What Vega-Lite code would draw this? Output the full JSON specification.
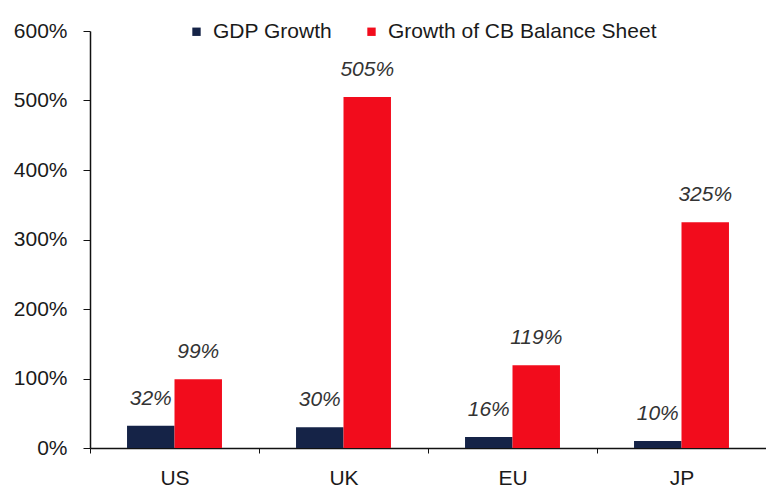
{
  "$schema": "https://vega.github.io/schema/vega-lite/v6.json",
  "width": 676,
  "height": 417,
  "autosize": "none",
  "padding": {"left": 90, "top": 31, "right": 0, "bottom": 41},
  "background": "white",
  "config": {
    "view": {"stroke": null},
    "font": "Liberation Sans",
    "axis": {"grid": false, "domainColor": "#111", "tickColor": "#111", "labelColor": "#1a1a1a", "labelFont": "Liberation Sans", "labelFontSize": 21}
  },
  "data": {
    "values": [
      {"region": "US", "series": "GDP Growth", "value": 32, "label": "32%"},
      {"region": "US", "series": "Growth of CB Balance Sheet", "value": 99, "label": "99%"},
      {"region": "UK", "series": "GDP Growth", "value": 30, "label": "30%"},
      {"region": "UK", "series": "Growth of CB Balance Sheet", "value": 505, "label": "505%"},
      {"region": "EU", "series": "GDP Growth", "value": 16, "label": "16%"},
      {"region": "EU", "series": "Growth of CB Balance Sheet", "value": 119, "label": "119%"},
      {"region": "JP", "series": "GDP Growth", "value": 10, "label": "10%"},
      {"region": "JP", "series": "Growth of CB Balance Sheet", "value": 325, "label": "325%"}
    ]
  },
  "encoding": {
    "x": {
      "field": "region", "type": "nominal", "sort": ["US", "UK", "EU", "JP"],
      "scale": {"paddingInner": 0, "paddingOuter": 0},
      "axis": {"title": null, "labelAngle": 0, "tickBand": "extent", "tickSize": 5, "labelPadding": 14, "domainWidth": 1.5}
    },
    "xOffset": {
      "field": "series", "type": "nominal",
      "scale": {"paddingInner": 0, "paddingOuter": 0.78}
    },
    "y": {
      "field": "value", "type": "quantitative",
      "scale": {"domain": [0, 600]},
      "axis": {"title": null, "values": [0, 100, 200, 300, 400, 500, 600], "labelExpr": "datum.value + '%'", "tickSize": 7, "labelPadding": 16, "domainWidth": 1.5}
    }
  },
  "layer": [
    {
      "mark": {"type": "bar"},
      "encoding": {
        "color": {
          "field": "series", "type": "nominal",
          "scale": {"domain": ["GDP Growth", "Growth of CB Balance Sheet"], "range": ["#152347", "#f20c1c"]},
          "legend": {
            "title": null, "orient": "none", "legendX": 96, "legendY": -10,
            "direction": "horizontal", "symbolType": "square", "symbolSize": 70,
            "labelFontSize": 21, "labelFont": "Liberation Sans", "labelColor": "#1a1a1a", "labelLimit": 400,
            "columnPadding": 28, "labelOffset": 6, "symbolStrokeWidth": 0
          }
        }
      }
    },
    {
      "mark": {"type": "text", "baseline": "bottom", "dy": -17, "fontStyle": "italic", "fontSize": 21, "font": "Liberation Sans", "color": "#333"},
      "encoding": {
        "text": {"field": "label", "type": "nominal"},
        "detail": {"field": "series"}
      }
    }
  ]
}
